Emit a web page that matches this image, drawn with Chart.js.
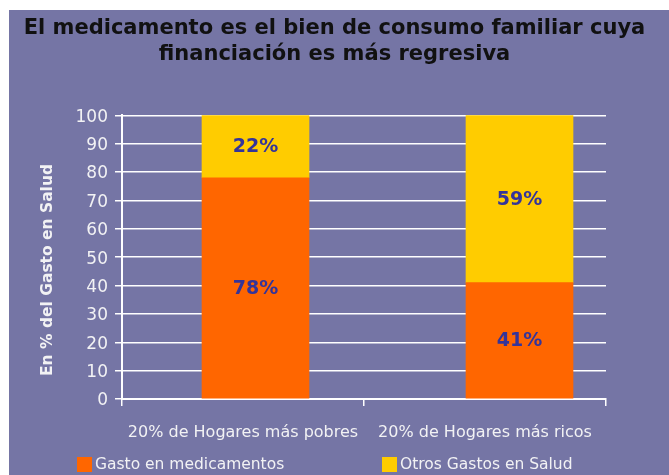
<!DOCTYPE html>
<html><head><meta charset="utf-8">
<script src="https://cdn.jsdelivr.net/npm/chart.js@4.4.1/dist/chart.umd.min.js"></script>
<style>html,body{margin:0;padding:0;background:#fff;overflow:hidden}#wrap{position:absolute;left:0;top:0;width:669px;height:475px}</style>
</head><body><div id="wrap"><canvas id="c" width="669" height="475"></canvas></div>
<script>
const categories = ['20% de Hogares más pobres', '20% de Hogares más ricos'];
const gastoMedicamentos = [78, 41];
const otrosGastos = [22, 59];
const seriesNames = ['Gasto en medicamentos', 'Otros Gastos en Salud'];
const titleLines = ['El medicamento es el bien de consumo familiar cuya', 'financiación es más regresiva'];
const yAxisTitle = 'En % del Gasto en Salud';
const yMin = 0, yMax = 100, yStep = 10;

const PURPLE = '#7575a5', ORANGE = '#ff6600', YELLOW = '#ffcc00';
const LIGHT = '#f2f2f4', LABELBLUE = '#34349a';

const bgPlugin = {
  id: 'bg',
  beforeDraw(chart) {
    const ctx = chart.ctx;
    ctx.save();
    ctx.fillStyle = '#ffffff';
    ctx.fillRect(0, 0, chart.width, chart.height);
    ctx.fillStyle = PURPLE;
    ctx.fillRect(9, 10, chart.width - 9, chart.height - 10);
    ctx.restore();
  }
};

const labelPlugin = {
  id: 'barLabels',
  afterDatasetsDraw(chart) {
    const ctx = chart.ctx;
    ctx.save();
    ctx.font = 'bold 19px "DejaVu Sans", sans-serif';
    ctx.fillStyle = LABELBLUE;
    ctx.textAlign = 'center';
    ctx.textBaseline = 'middle';
    chart.data.datasets.forEach((ds, di) => {
      const meta = chart.getDatasetMeta(di);
      meta.data.forEach((el, i) => {
        const p = el.getProps(['x', 'y', 'base'], true);
        ctx.fillText(ds.data[i].y + '%', p.x, (p.y + p.base) / 2 + 1);
      });
    });
    ctx.restore();
  }
};

const extrasPlugin = {
  id: 'extras',
  afterDraw(chart) {
    const ctx = chart.ctx;
    ctx.save();
    ctx.translate(48, 270);
    ctx.rotate(-Math.PI / 2);
    ctx.font = 'bold 15.5px "DejaVu Sans", sans-serif';
    ctx.fillStyle = LIGHT;
    ctx.textAlign = 'center';
    ctx.textBaseline = 'middle';
    ctx.fillText(yAxisTitle, 0, 0);
    ctx.restore();
    ctx.save();
    ctx.font = '15.5px "DejaVu Sans", sans-serif';
    ctx.textBaseline = 'middle';
    ctx.textAlign = 'left';
    const starts = [77, 382];
    chart.data.datasets.forEach((ds, i) => {
      ctx.fillStyle = ds.backgroundColor;
      ctx.fillRect(starts[i], 457, 15, 15);
      ctx.fillStyle = LIGHT;
      ctx.fillText(ds.label, starts[i] + 18, 465);
    });
    ctx.restore();
  }
};

const pxPerCat = 264, areaLeft = 122, areaW = 484, firstBarCenter = 255.5;
const xbMin = -(firstBarCenter - areaLeft) / pxPerCat;
const xbMax = xbMin + areaW / pxPerCat;

new Chart(document.getElementById('c'), {
  type: 'bar',
  data: {
    labels: categories,
    datasets: [
      { label: seriesNames[0], xAxisID: 'xb', backgroundColor: ORANGE, borderWidth: 0, barThickness: 107,
        data: gastoMedicamentos.map((v, i) => ({ x: i, y: v })) },
      { label: seriesNames[1], xAxisID: 'xb', backgroundColor: YELLOW, borderWidth: 0, barThickness: 107,
        data: otrosGastos.map((v, i) => ({ x: i, y: v })) }
    ]
  },
  options: {
    responsive: false,
    animation: false,
    devicePixelRatio: 1,
    layout: { padding: { left: 0, right: 0, top: 0, bottom: 30 } },
    plugins: {
      legend: { display: false },
      tooltip: { enabled: false },
      title: {
        display: true,
        text: titleLines,
        color: '#111111',
        font: { family: '"DejaVu Sans", sans-serif', size: 21, weight: 'bold', lineHeight: 1.27 },
        padding: { top: 15, bottom: 47 }
      }
    },
    scales: {
      x: {
        type: 'category',
        position: 'bottom',
        offset: true,
        grid: { offset: true, drawOnChartArea: false, drawTicks: true, tickLength: 7, color: '#ffffff', lineWidth: 1.5 },
        border: { display: true, color: '#ffffff', width: 2 },
        ticks: { color: LIGHT, font: { family: '"DejaVu Sans", sans-serif', size: 16 }, padding: 17, maxRotation: 0 },
        afterFit(s) { s.height = 46; }
      },
      xb: {
        type: 'linear',
        axis: 'x',
        display: false,
        offset: false,
        bounds: 'data',
        stacked: true,
        min: xbMin,
        max: xbMax,
        ticks: { includeBounds: true }
      },
      y: {
        stacked: true,
        min: yMin,
        max: yMax,
        ticks: { stepSize: yStep, color: LIGHT, font: { family: '"DejaVu Sans", sans-serif', size: 17 }, padding: 7, labelOffset: 2 },
        grid: { color: '#ffffff', lineWidth: 1.5, tickLength: 7 },
        border: { display: true, color: '#ffffff', width: 2 },
        afterFit(s) { s.width = 122; }
      },
      yr: {
        type: 'linear',
        axis: 'y',
        position: 'right',
        display: true,
        ticks: { display: false },
        grid: { display: false, drawTicks: false },
        border: { display: false },
        afterFit(s) { s.width = 63; }
      }
    }
  },
  plugins: [bgPlugin, labelPlugin, extrasPlugin]
});
</script>
</body></html>
